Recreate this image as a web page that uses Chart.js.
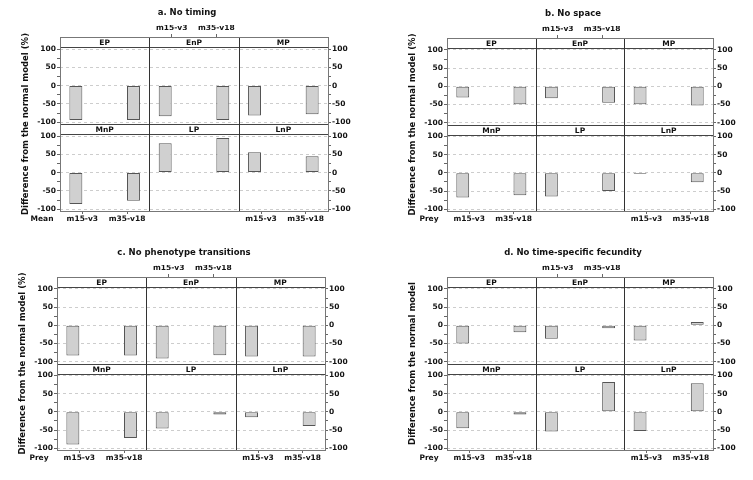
<!DOCTYPE html>
<html lang="en">
<head>
<meta charset="UTF-8">
<title>Difference from the normal model</title>
<script src="https://cdn.jsdelivr.net/npm/chart.js"></script>
<style>
  body { margin: 0; background: #fff; }
  #wrap { position: relative; width: 753px; height: 480px; }
  canvas { position: absolute; }
</style>
</head>
<body>
<div id="wrap">
  <canvas id="chartA" width="376" height="240" style="left:0;top:0"></canvas>
  <canvas id="chartB" width="377" height="240" style="left:376px;top:0"></canvas>
  <canvas id="chartC" width="376" height="240" style="left:0;top:240px"></canvas>
  <canvas id="chartD" width="377" height="240" style="left:376px;top:240px"></canvas>
</div>
<script>
    // facets: top row then bottom row
    const topFacets = ['EP', 'EnP', 'MP']
    const bottomFacets = ['MnP', 'LP', 'LnP']
    const scenarios = ['m15-v3', 'm35-v18']
    const yTicks = [-100, -75, -50, -25, 0, 25, 50, 75, 100]

    // values in order EP, EnP, MP, MnP, LP, LnP
    const noTimingM15 = [-94, -84, -82, -86, 80, 56]
    const noTimingM35 = [-94, -94, -78, -77, 95, 45]
    const noSpaceM15 = [-31, -33, -49, -68, -65, -3]
    const noSpaceM35 = [-49, -45, -53, -62, -50, -26]
    const noTransM15 = [-83, -91, -86, -90, -46, -15]
    const noTransM35 = [-83, -82, -86, -72, -7, -39]
    const noFecM15 = [-50, -37, -42, -45, -54, -53]
    const noFecM35 = [-19, -8, 9, -7, 82, 79]

    const Y_MIN = -105
    const STRIP_BASE = 105
    const Y_MAX = 133

    Chart.defaults.font.family = 'DejaVu Sans'
    Chart.defaults.font.weight = 'bold'
    Chart.defaults.color = '#111'

    const panels = [
        { id: 'chartA', title: 'a. No timing', yTitle: 'Difference from the normal model (%)', corner: 'Mean',
          m15: noTimingM15, m35: noTimingM35, pad: { left: 36, right: 24, top: 25, bottom: 17 } },
        { id: 'chartB', title: 'b. No space', yTitle: 'Difference from the normal model (%)', corner: 'Prey',
          m15: noSpaceM15, m35: noSpaceM35, pad: { left: 47, right: 16, top: 26, bottom: 17 } },
        { id: 'chartC', title: 'c. No phenotype transitions', yTitle: 'Difference from the normal model (%)', corner: 'Prey',
          m15: noTransM15, m35: noTransM35, pad: { left: 33, right: 27, top: 25, bottom: 18 } },
        { id: 'chartD', title: 'd. No time-specific fecundity', yTitle: 'Difference from the normal model', corner: 'Prey',
          m15: noFecM15, m35: noFecM35, pad: { left: 47, right: 16, top: 25, bottom: 18 } }
    ]

    const facetPlugin = {
        id: 'facets',
        afterDatasetsDraw(chart, args, opts) {
            const { ctx, chartArea: a, scales } = chart
            const x = scales.x
            const colCenter = c => (x.getPixelForValue(2 * c) + x.getPixelForValue(2 * c + 1)) / 2
            ctx.save()
            // strips
            const rows = [['y1', topFacets], ['y2', bottomFacets]]
            rows.forEach(([id, names]) => {
                const y = scales[id]
                const top = Math.round(y.top) + 0.5
                const sb = Math.round(y.getPixelForValue(STRIP_BASE)) + 0.5
                ctx.fillStyle = '#fff'
                ctx.fillRect(a.left, top, a.right - a.left, sb - top)
                ctx.strokeStyle = '#444'
                ctx.lineWidth = 1
                ctx.beginPath()
                ctx.moveTo(a.left, top); ctx.lineTo(a.right, top)
                ctx.moveTo(a.left, sb); ctx.lineTo(a.right, sb)
                ctx.stroke()
                ctx.fillStyle = '#111'
                ctx.font = 'bold 7.5px "DejaVu Sans"'
                ctx.textAlign = 'center'
                ctx.textBaseline = 'middle'
                names.forEach((n, c) => ctx.fillText(n, colCenter(c), (top + sb) / 2 + 0.5))
            })
            // column dividers
            ctx.strokeStyle = '#333'
            ctx.beginPath()
            ;[1, 3].forEach(i => {
                const px = Math.round((x.getPixelForValue(i) + x.getPixelForValue(i + 1)) / 2) + 0.5
                ctx.moveTo(px, a.top); ctx.lineTo(px, a.bottom)
            })
            ctx.stroke()
            // outer frame
            ctx.strokeStyle = '#777'
            ctx.strokeRect(Math.round(a.left) + 0.5, Math.round(a.top) + 0.5,
                Math.round(a.right - a.left), Math.round(a.bottom - a.top))
            ctx.restore()
        },
        afterDraw(chart, args, opts) {
            const { ctx, chartArea: a } = chart
            ctx.save()
            ctx.fillStyle = '#111'
            ctx.textAlign = 'center'
            ctx.textBaseline = 'middle'
            ctx.font = 'bold 8.5px "DejaVu Sans"'
            ctx.fillText(opts.title, (a.left + a.right) / 2 - 7, a.top - 24)
            ctx.font = 'bold 7.5px "DejaVu Sans"'
            ctx.fillText(opts.corner, a.left - 18, a.bottom + 8)
            ctx.translate(a.left - 34, (a.top + a.bottom) / 2)
            ctx.rotate(-Math.PI / 2)
            ctx.font = 'bold 8.5px "DejaVu Sans"'
            ctx.fillText(opts.yTitle, 0, 0)
            ctx.restore()
        }
    }

    function yAxis(pos, weight, onArea) {
        return {
            type: 'linear', position: pos, stack: 'rows', weight: weight,
            min: Y_MIN, max: Y_MAX, stacked: false,
            afterBuildTicks: s => { s.ticks = yTicks.map(v => ({ value: v })) },
            afterFit: s => { s.width = 24 },
            ticks: { autoSkip: false, padding: 1, font: { size: 7.5 }, callback: v => v % 50 === 0 ? v : '' },
            grid: {
                drawOnChartArea: onArea, tickLength: 3, tickColor: '#666', tickBorderDash: [],
                color: c => c.tick && c.tick.value % 50 === 0 ? '#cdcdcd' : 'rgba(0,0,0,0)'
            },
            border: { display: false, dash: [3, 3] }
        }
    }

    function xAxis(pos, shown) {
        return {
            type: 'category', position: pos, offset: true,
            afterFit: s => { s.height = 12 },
            ticks: {
                autoSkip: false, maxRotation: 0, padding: 1, font: { size: 7.5 },
                callback: function (v, i) { return shown.includes(i) ? this.getLabelForValue(v) : '' }
            },
            grid: {
                offset: false, drawOnChartArea: false, tickLength: 3,
                tickColor: c => shown.includes(c.index) ? '#666' : 'rgba(0,0,0,0)'
            },
            border: { display: false }
        }
    }

    function slot(vals, row, k) {
        const out = []
        for (let c = 0; c < 3; c++) {
            for (let j = 0; j < 2; j++) out.push(j === k ? vals[row * 3 + c] : null)
        }
        return out
    }

    function makeChart(p) {
        const labels = []
        topFacets.forEach(() => scenarios.forEach(s => labels.push(s)))
        const bar = { backgroundColor: '#d0d0d0', borderColor: '#555', borderWidth: 1, borderSkipped: false,
                      categoryPercentage: 0.58, barPercentage: 1, xAxisID: 'x' }
        const datasets = [
            Object.assign({ label: 'm15-v3 top', data: slot(p.m15, 0, 0), yAxisID: 'y1', stack: 'a' }, bar),
            Object.assign({ label: 'm35-v18 top', data: slot(p.m35, 0, 1), yAxisID: 'y1', stack: 'b' }, bar),
            Object.assign({ label: 'm15-v3 bottom', data: slot(p.m15, 1, 0), yAxisID: 'y2', stack: 'a' }, bar),
            Object.assign({ label: 'm35-v18 bottom', data: slot(p.m35, 1, 1), yAxisID: 'y2', stack: 'b' }, bar)
        ]
        new Chart(document.getElementById(p.id), {
            type: 'bar',
            data: { labels: labels, datasets: datasets },
            options: {
                responsive: false,
                animation: false,
                layout: { padding: p.pad },
                plugins: {
                    legend: { display: false },
                    tooltip: { enabled: false },
                    facets: { title: p.title, yTitle: p.yTitle, corner: p.corner }
                },
                scales: {
                    x: xAxis('bottom', [0, 1, 4, 5]),
                    xt: xAxis('top', [2, 3]),
                    y1: yAxis('left', 1, true),
                    y2: yAxis('left', 0, true),
                    r1: yAxis('right', 0, false),
                    r2: yAxis('right', 1, false)
                }
            },
            plugins: [facetPlugin]
        })
    }

    panels.forEach(makeChart)
</script>
</body>
</html>
